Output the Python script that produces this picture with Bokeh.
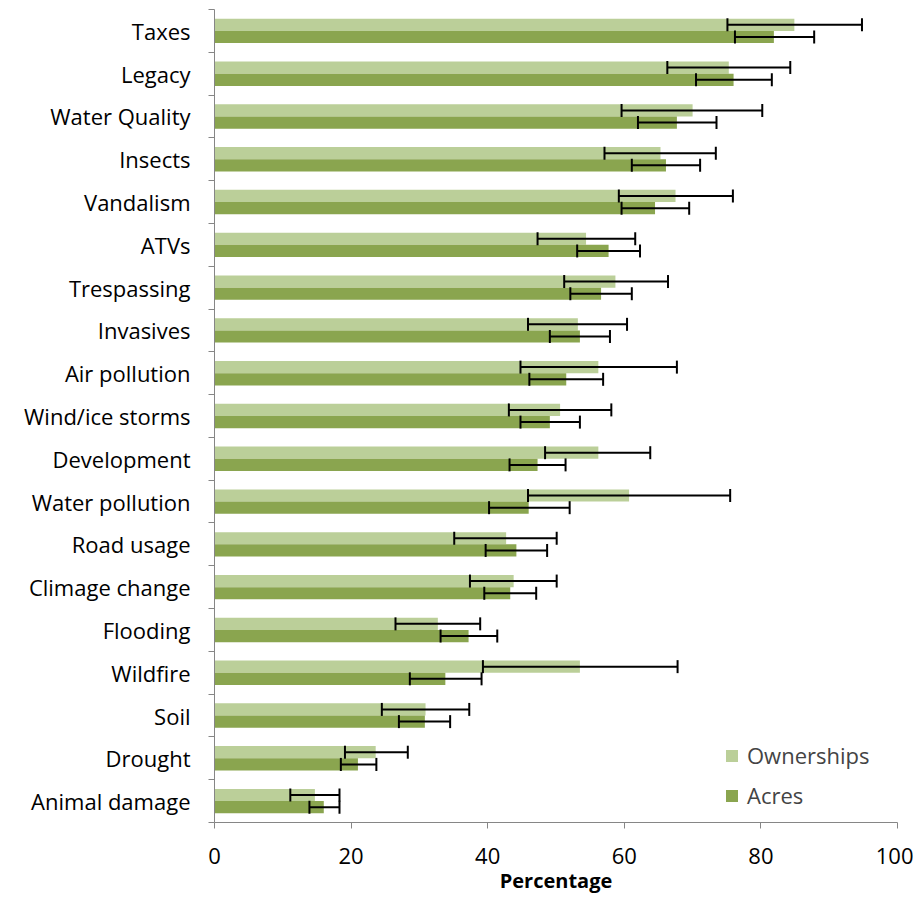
from bokeh.plotting import figure
from bokeh.embed import file_html
from bokeh.resources import INLINE
from bokeh.models import ColumnDataSource, Whisker, TeeHead, FixedTicker, Legend, LegendItem, Range1d

# categories, top to bottom
categories = ["Taxes", "Legacy", "Water Quality", "Insects", "Vandalism", "ATVs",
              "Trespassing", "Invasives", "Air pollution", "Wind/ice storms",
              "Development", "Water pollution", "Road usage", "Climage change",
              "Flooding", "Wildfire", "Soil", "Drought", "Animal damage"]

# Ownerships (%), with error bar ends
ownerships = [84.9, 75.3, 70.0, 65.3, 67.5, 54.4, 58.7, 53.2, 56.2, 50.6,
              56.2, 60.7, 42.7, 43.8, 32.7, 53.5, 30.9, 23.6, 14.7]
ownerships_lo = [75.1, 66.3, 59.6, 57.1, 59.2, 47.3, 51.2, 45.9, 44.8, 43.1,
                 48.4, 45.9, 35.1, 37.4, 26.5, 39.3, 24.5, 19.1, 11.1]
ownerships_hi = [94.8, 84.3, 80.2, 73.4, 75.9, 61.6, 66.4, 60.4, 67.7, 58.1,
                 63.8, 75.5, 50.1, 50.1, 38.9, 67.8, 37.3, 28.3, 18.3]

# Acres (%), with error bar ends
acres = [81.9, 76.0, 67.7, 66.1, 64.5, 57.7, 56.6, 53.5, 51.5, 49.1,
         47.3, 46.0, 44.2, 43.3, 37.2, 33.8, 30.8, 21.0, 16.0]
acres_lo = [76.2, 70.5, 62.0, 61.1, 59.6, 53.1, 52.1, 49.1, 46.1, 44.8,
            43.2, 40.2, 39.7, 39.5, 33.1, 28.6, 27.0, 18.5, 13.9]
acres_hi = [87.8, 81.6, 73.5, 71.1, 69.5, 62.3, 61.1, 57.9, 56.9, 53.5,
            51.4, 52.0, 48.7, 47.1, 41.4, 39.1, 34.5, 23.7, 18.3]

x_ticks = [0, 20, 40, 60, 80, 100]

own_color = "#BBCF99"
acres_color = "#8AA54F"
font = "Open Sans"

n = len(categories)
ypos = [n - 1 - i for i in range(n)]
bar_h = 0.285

src = ColumnDataSource(dict(
    cat=categories,
    y_own=[y + bar_h / 2 for y in ypos],
    y_acres=[y - bar_h / 2 for y in ypos],
    own=ownerships, own_lo=ownerships_lo, own_hi=ownerships_hi,
    acres=acres, acres_lo=acres_lo, acres_hi=acres_hi,
))

p = figure(width=913, height=896, output_backend="svg", toolbar_location=None, tools="",
           x_range=Range1d(0, 100), y_range=Range1d(-0.5, n - 0.5),
           min_border_left=214, min_border_right=16, min_border_top=9, min_border_bottom=73)

r_own = p.hbar(y="y_own", right="own", left=0, height=bar_h, source=src,
               fill_color=own_color, line_color=None)
r_acres = p.hbar(y="y_acres", right="acres", left=0, height=bar_h, source=src,
                 fill_color=acres_color, line_color=None)

for base, lo, hi in [("y_own", "own_lo", "own_hi"), ("y_acres", "acres_lo", "acres_hi")]:
    w = Whisker(source=src, base=base, lower=lo, upper=hi, dimension="width",
                line_color="black", line_width=2, level="overlay",
                lower_head=TeeHead(size=13, line_color="black", line_width=2),
                upper_head=TeeHead(size=13, line_color="black", line_width=2))
    p.add_layout(w)

# axes
p.xgrid.visible = False
p.ygrid.visible = False
p.outline_line_color = None

p.xaxis.ticker = FixedTicker(ticks=x_ticks)
p.xaxis.axis_label = "Percentage"
p.xaxis.axis_label_text_font = font
p.xaxis.axis_label_text_font_style = "bold"
p.xaxis.axis_label_text_font_size = "20px"
p.xaxis.axis_label_text_color = "black"
p.xaxis.axis_label_standoff = 0
p.xaxis.major_label_text_font = font
p.xaxis.major_label_text_font_size = "22px"
p.xaxis.major_label_text_color = "black"
p.xaxis.axis_line_color = "#868686"
p.xaxis.major_tick_line_color = "#868686"
p.xaxis.major_tick_in = 0
p.xaxis.major_tick_out = 6
p.xaxis.minor_tick_line_color = None
p.xaxis.major_label_standoff = 19

p.yaxis.ticker = FixedTicker(ticks=ypos, minor_ticks=[y + 0.5 for y in ypos] + [-0.5])
p.yaxis.major_label_overrides = {y: c for y, c in zip(ypos, categories)}
p.yaxis.major_label_text_font = font
p.yaxis.major_label_text_font_size = "22px"
p.yaxis.major_label_text_color = "black"
p.yaxis.axis_line_color = "#868686"
p.yaxis.major_tick_line_color = None
p.yaxis.major_tick_in = 0
p.yaxis.major_tick_out = 0
p.yaxis.minor_tick_line_color = "#868686"
p.yaxis.minor_tick_in = 0
p.yaxis.minor_tick_out = 6
p.yaxis.major_label_standoff = 18

legend = Legend(items=[LegendItem(label="Ownerships", renderers=[r_own]),
                       LegendItem(label="Acres", renderers=[r_acres])],
                location=(510, 12), label_text_font=font, label_text_font_size="22px",
                glyph_width=15, glyph_height=15, label_standoff=8, spacing=10,
                border_line_color=None, background_fill_alpha=0)
p.add_layout(legend)

open("out.html", "w").write(file_html(p, INLINE))
